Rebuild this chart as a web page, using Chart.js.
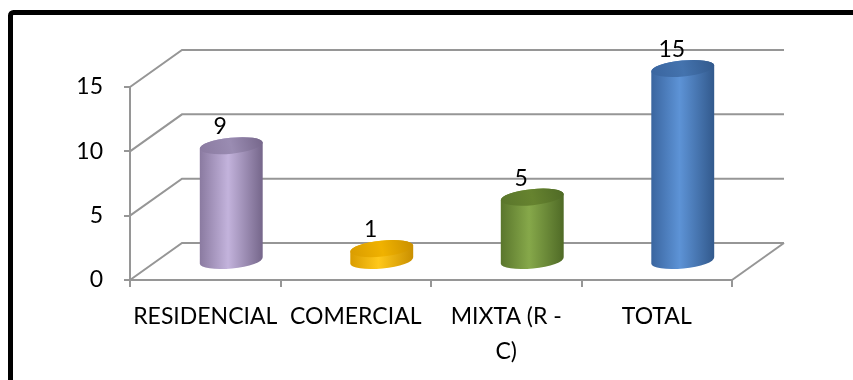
<!DOCTYPE html>
<html>
<head>
<meta charset="utf-8">
<script src="https://cdn.jsdelivr.net/npm/chart.js@4.4.0/dist/chart.umd.min.js"></script>
<style>
  html, body { margin: 0; padding: 0; background: #ffffff; }
  #wrap { width: 853px; height: 380px; position: relative; }
</style>
</head>
<body>
<div id="wrap"><canvas id="c" width="853" height="380"></canvas></div>
<script>
// Chart data
const categories = ['RESIDENCIAL', 'COMERCIAL', ['MIXTA (R -', 'C)'], 'TOTAL'];
const values = [9, 1, 5, 15];
const yTicks = [0, 5, 10, 15];

// Cylinder colours: edge shade, highlight, far edge, top face
const fills = [
  { edge: '#8a7aa0', light: '#c3b3dc', dark: '#75668a', top: '#9a8cb2' },
  { edge: '#d99c00', light: '#ffc81a', dark: '#c98f00', top: '#f0b200' },
  { edge: '#5a762c', light: '#86a84a', dark: '#4f6a26', top: '#66832f' },
  { edge: '#3a659f', light: '#5d93d6', dark: '#32598c', top: '#4473ae' }
];

// 3D projection of the plot box (back wall offset)
const DX = 52, DY = -37;
const GRID = '#969696';

const walls = {
  id: 'walls',
  beforeDatasetsDraw(chart) {
    const { ctx, chartArea: a, scales: { y } } = chart;
    ctx.save();
    ctx.strokeStyle = GRID;
    ctx.lineWidth = 2;
    y.ticks.forEach(t => {
      const py = y.getPixelForValue(t.value);
      ctx.beginPath();
      ctx.moveTo(a.left, py);
      ctx.lineTo(a.left + DX, py + DY);
      ctx.lineTo(a.right + DX, py + DY);
      ctx.stroke();
    });
    const p0 = y.getPixelForValue(0);
    ctx.beginPath();
    ctx.moveTo(a.right, p0);
    ctx.lineTo(a.right + DX, p0 + DY);
    ctx.stroke();
    ctx.restore();
  }
};

function cylinder(ctx, cx, yTop, yBot, rx, ry, tilt, c) {
  const g = ctx.createLinearGradient(cx - rx, 0, cx + rx, 0);
  g.addColorStop(0, c.edge);
  g.addColorStop(0.45, c.light);
  g.addColorStop(1, c.dark);
  ctx.beginPath();
  ctx.ellipse(cx, yBot, rx, ry, tilt, 0, Math.PI, false);
  ctx.ellipse(cx, yTop, rx, ry, tilt, Math.PI, 2 * Math.PI, false);
  ctx.closePath();
  ctx.fillStyle = g;
  ctx.fill();
  const gt = ctx.createLinearGradient(cx - rx, yTop + ry, cx + rx, yTop - ry);
  gt.addColorStop(0, c.edge);
  gt.addColorStop(0.5, c.top);
  gt.addColorStop(1, c.dark);
  ctx.beginPath();
  ctx.ellipse(cx, yTop, rx, ry, tilt, 0, 2 * Math.PI);
  ctx.fillStyle = gt;
  ctx.fill();
}

const cylinders = {
  id: 'cylinders',
  afterDatasetsDraw(chart) {
    const { ctx } = chart;
    const meta = chart.getDatasetMeta(0);
    ctx.save();
    meta.data.forEach((el, i) => {
      const cx = el.x + DX / 2;
      const yTop = el.y + DY / 2;
      const yBot = el.base + DY / 2;
      cylinder(ctx, cx, yTop, yBot, el.width / 2, 8, -0.1, fills[i]);
    });
    ctx.fillStyle = '#000';
    ctx.font = '23px Lato';
    ctx.textAlign = 'center';
    ctx.textBaseline = 'middle';
    meta.data.forEach((el, i) => {
      ctx.fillText(String(values[i]), el.x + DX / 2 - 11, el.y + DY / 2 - 19);
    });
    ctx.restore();
  }
};

const frame = {
  id: 'frame',
  afterDraw(chart) {
    const { ctx } = chart;
    ctx.save();
    ctx.strokeStyle = '#000';
    ctx.lineWidth = 5;
    ctx.beginPath();
    ctx.roundRect(10.5, 12.5, 900, 420, 3);
    ctx.stroke();
    ctx.restore();
  }
};

Chart.defaults.font.family = 'Lato';
Chart.defaults.color = '#000';

new Chart(document.getElementById('c'), {
  type: 'bar',
  data: {
    labels: categories,
    datasets: [{
      data: values,
      backgroundColor: 'rgba(0,0,0,0)',
      borderWidth: 0,
      categoryPercentage: 1,
      barPercentage: 0.42
    }]
  },
  options: {
    responsive: false,
    animation: false,
    devicePixelRatio: 1,
    layout: { padding: { top: 87, right: 121, left: 0, bottom: 0 } },
    plugins: { legend: { display: false }, tooltip: { enabled: false }, title: { display: false } },
    scales: {
      x: {
        afterFit(s) { s.height = 100; },
        grid: { drawOnChartArea: false, drawTicks: true, tickLength: 7, color: GRID, lineWidth: 2, offset: true },
        border: { display: true, color: GRID, width: 2 },
        ticks: { font: { size: 23, lineHeight: 1.52 }, padding: 12, maxRotation: 0, autoSkip: false }
      },
      y: {
        min: yTicks[0],
        max: yTicks[yTicks.length - 1],
        afterFit(s) { s.width = 130; },
        grid: { drawOnChartArea: false, drawTicks: true, tickLength: 6, color: GRID, lineWidth: 2 },
        border: { display: true, color: GRID, width: 2 },
        ticks: { stepSize: yTicks[1] - yTicks[0], font: { size: 23 }, padding: 21 }
      }
    }
  },
  plugins: [walls, cylinders, frame]
});
</script>
</body>
</html>
